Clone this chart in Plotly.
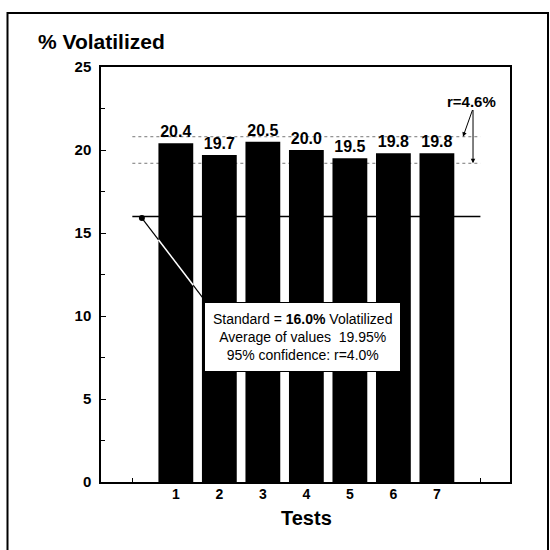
import plotly.graph_objects as go

tests = [1, 2, 3, 4, 5, 6, 7]
volatilized = [20.4, 19.7, 20.5, 20.0, 19.5, 19.8, 19.8]
value_labels = ["20.4", "19.7", "20.5", "20.0", "19.5", "19.8", "19.8"]
standard_value = 16.0
band_upper = 20.8
band_lower = 19.2
x_tickvals = [0, 1, 2, 3, 4, 5, 6, 7, 8]
x_ticktext = ["", "1", "2", "3", "4", "5", "6", "7", ""]
y_tickvals = [0, 5, 10, 15, 20, 25]
y_ticktext = ["0", "5", "10", "15", "20", "25"]
box_lines = ["Standard = <b>16.0%</b> Volatilized", "Average of values  19.95%", "95% confidence: r=4.0%"]
r_label = "r=4.6%"

FONT = "Liberation Sans, Arial, sans-serif"

# figure geometry (pixels); page body margin removed via post_script
OFF = 0
W, H = 550, 550
L, T = 101, 67
pw, ph = 409, 415
R = W - L - pw
B = H - T - ph

def px_to_paper_x(sx):
    return (sx - OFF - L) / pw

def px_to_paper_y(sy):
    return (T + ph - (sy - OFF)) / ph

fig = go.Figure()

fig.add_trace(go.Bar(
    x=tests, y=volatilized, width=0.8,
    marker=dict(color="black", line=dict(width=0)),
    text=value_labels, textposition="outside",
    textfont=dict(family=FONT, size=16, color="black"),
    texttemplate="<b>%{text}</b>",
    cliponaxis=False, showlegend=False, hoverinfo="skip",
))

# dot at start of the connector
dot_x, dot_y = 0.22, 15.9
corner_x, corner_y = 1.66, 10.96
fig.add_trace(go.Scatter(x=[dot_x], y=[dot_y], mode="markers",
                         marker=dict(color="black", size=6), showlegend=False, hoverinfo="skip"))

shapes = []
# standard line
shapes.append(dict(type="line", xref="x", yref="y", x0=0, x1=8, y0=standard_value, y1=standard_value,
                   line=dict(color="black", width=1.5), layer="above"))
# dotted band lines
for yv in (band_upper, band_lower):
    shapes.append(dict(type="line", xref="x", yref="y", x0=0, x1=8, y0=yv, y1=yv,
                       line=dict(color="#777", width=1, dash="dot"), layer="below"))
# connector line (black below bars, white over bar 1)
shapes.append(dict(type="line", xref="x", yref="y", x0=dot_x, y0=dot_y, x1=corner_x, y1=corner_y,
                   line=dict(color="black", width=1.2), layer="below"))
def interp(xv):
    return dot_y + (corner_y - dot_y) * (xv - dot_x) / (corner_x - dot_x)
bx0, bx1 = tests[0] - 0.4, tests[0] + 0.4
shapes.append(dict(type="line", xref="x", yref="y", x0=bx0, y0=interp(bx0), x1=bx1, y1=interp(bx1),
                   line=dict(color="white", width=1.5), layer="above"))
# outer frame
shapes.append(dict(type="rect", xref="paper", yref="paper",
                   x0=px_to_paper_x(7.5), x1=px_to_paper_x(548),
                   y0=px_to_paper_y(560), y1=px_to_paper_y(13),
                   line=dict(color="black", width=2), fillcolor="rgba(0,0,0,0)", layer="above"))

annotations = []
annotations.append(dict(xref="paper", yref="paper", x=px_to_paper_x(36), y=px_to_paper_y(41),
                        xanchor="left", yanchor="middle", showarrow=False,
                        text="<b>% Volatilized</b>", font=dict(family=FONT, size=21, color="black")))
annotations.append(dict(xref="paper", yref="paper", x=px_to_paper_x(306), y=px_to_paper_y(518),
                        xanchor="center", yanchor="middle", showarrow=False,
                        text="<b>Tests</b>", font=dict(family=FONT, size=20, color="black")))
annotations.append(dict(xref="x", yref="y", x=3.9, y=8.75, showarrow=False,
                        text="<br>".join(box_lines), align="center",
                        font=dict(family=FONT, size=14, color="black"),
                        bgcolor="white", bordercolor="black", borderwidth=1, borderpad=8))
annotations.append(dict(xref="x", yref="y", x=7.8, y=22.95, showarrow=False,
                        text="<b>" + r_label + "</b>", font=dict(family=FONT, size=15, color="black")))
apex_x, apex_y = 7.83, 22.5
for ex, ey in ((7.6, band_upper), (7.83, band_lower)):
    annotations.append(dict(xref="x", yref="y", axref="x", ayref="y", x=ex, y=ey, ax=apex_x, ay=apex_y,
                            text="", showarrow=True, arrowhead=2, arrowsize=0.9, arrowwidth=1,
                            arrowcolor="black", standoff=0, startstandoff=0))

fig.update_layout(
    width=W, height=H, margin=dict(l=L, r=R, t=T, b=B),
    paper_bgcolor="white", plot_bgcolor="white",
    shapes=shapes, annotations=annotations, showlegend=False,
    bargap=0.2, hovermode=False,
)
fig.update_xaxes(range=[-0.72, 8.68], tickvals=x_tickvals,
                 ticktext=["<b>" + t + "</b>" if t else "" for t in x_ticktext],
                 ticks="inside", ticklen=4, tickcolor="black", showgrid=False, zeroline=False,
                 showline=True, linecolor="black", linewidth=1.5, mirror=True,
                 tickfont=dict(family=FONT, size=14, color="black"), ticklabelstandoff=-2)
fig.update_yaxes(range=[0, 25], tickvals=y_tickvals, ticktext=["<b>" + t + "</b>" for t in y_ticktext],
                 ticks="inside", ticklen=5, tickcolor="black",
                 minor=dict(tickvals=[2.5, 7.5, 12.5, 17.5, 22.5], ticks="inside", ticklen=4, tickcolor="black"),
                 showgrid=False, zeroline=False, showline=True, linecolor="black", linewidth=1.5, mirror=True,
                 tickfont=dict(family=FONT, size=15, color="black"), ticklabelstandoff=5)

fig.write_html("out.html", config={"displayModeBar": False},
               post_script="document.body.style.margin='0';document.body.style.overflow='hidden';")
